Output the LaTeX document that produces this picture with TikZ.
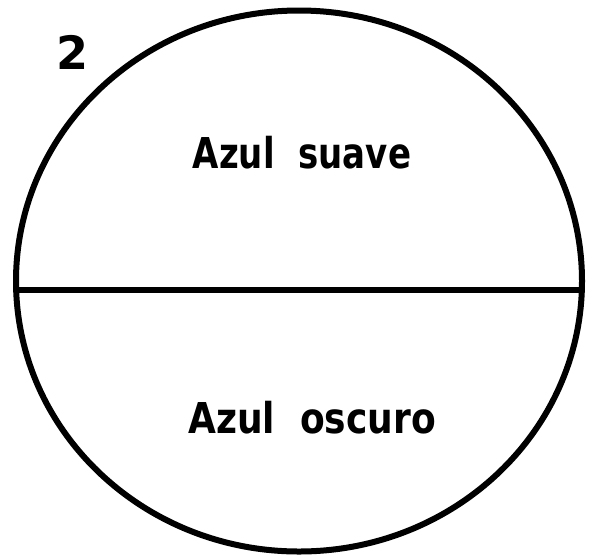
\documentclass[tikz,border=0pt]{standalone}
\usepackage{fontspec}
\setmainfont{DejaVu Sans}
\usetikzlibrary{shapes.geometric}
\begin{document}
\begin{tikzpicture}[x=1pt,y=-1pt,
  stroke/.style={line width=6pt,line cap=round},
  lbl/.style={font=\fontsize{34}{40}\selectfont\bfseries,inner sep=0pt}]
\useasboundingbox (0,0) rectangle (594,558);
\node[draw,stroke,ellipse,minimum width=566pt,minimum height=541pt,inner sep=0pt] (c) at (299,281) {};
\coordinate (l) at (18,290);
\coordinate (r) at (581,290);
\draw[stroke] (l) -- (r);
\node[lbl] (t1) at (302,153) {\scalebox{1}[1.25]{Azul\ \ suave}};
\node[lbl] (t2) at (312,418) {\scalebox{1.06}[1.25]{Azul\ \ oscuro}};
\node[font=\fontsize{46}{50}\selectfont\bfseries,inner sep=0pt] (n) at (73,52) {2};
\end{tikzpicture}
\end{document}
